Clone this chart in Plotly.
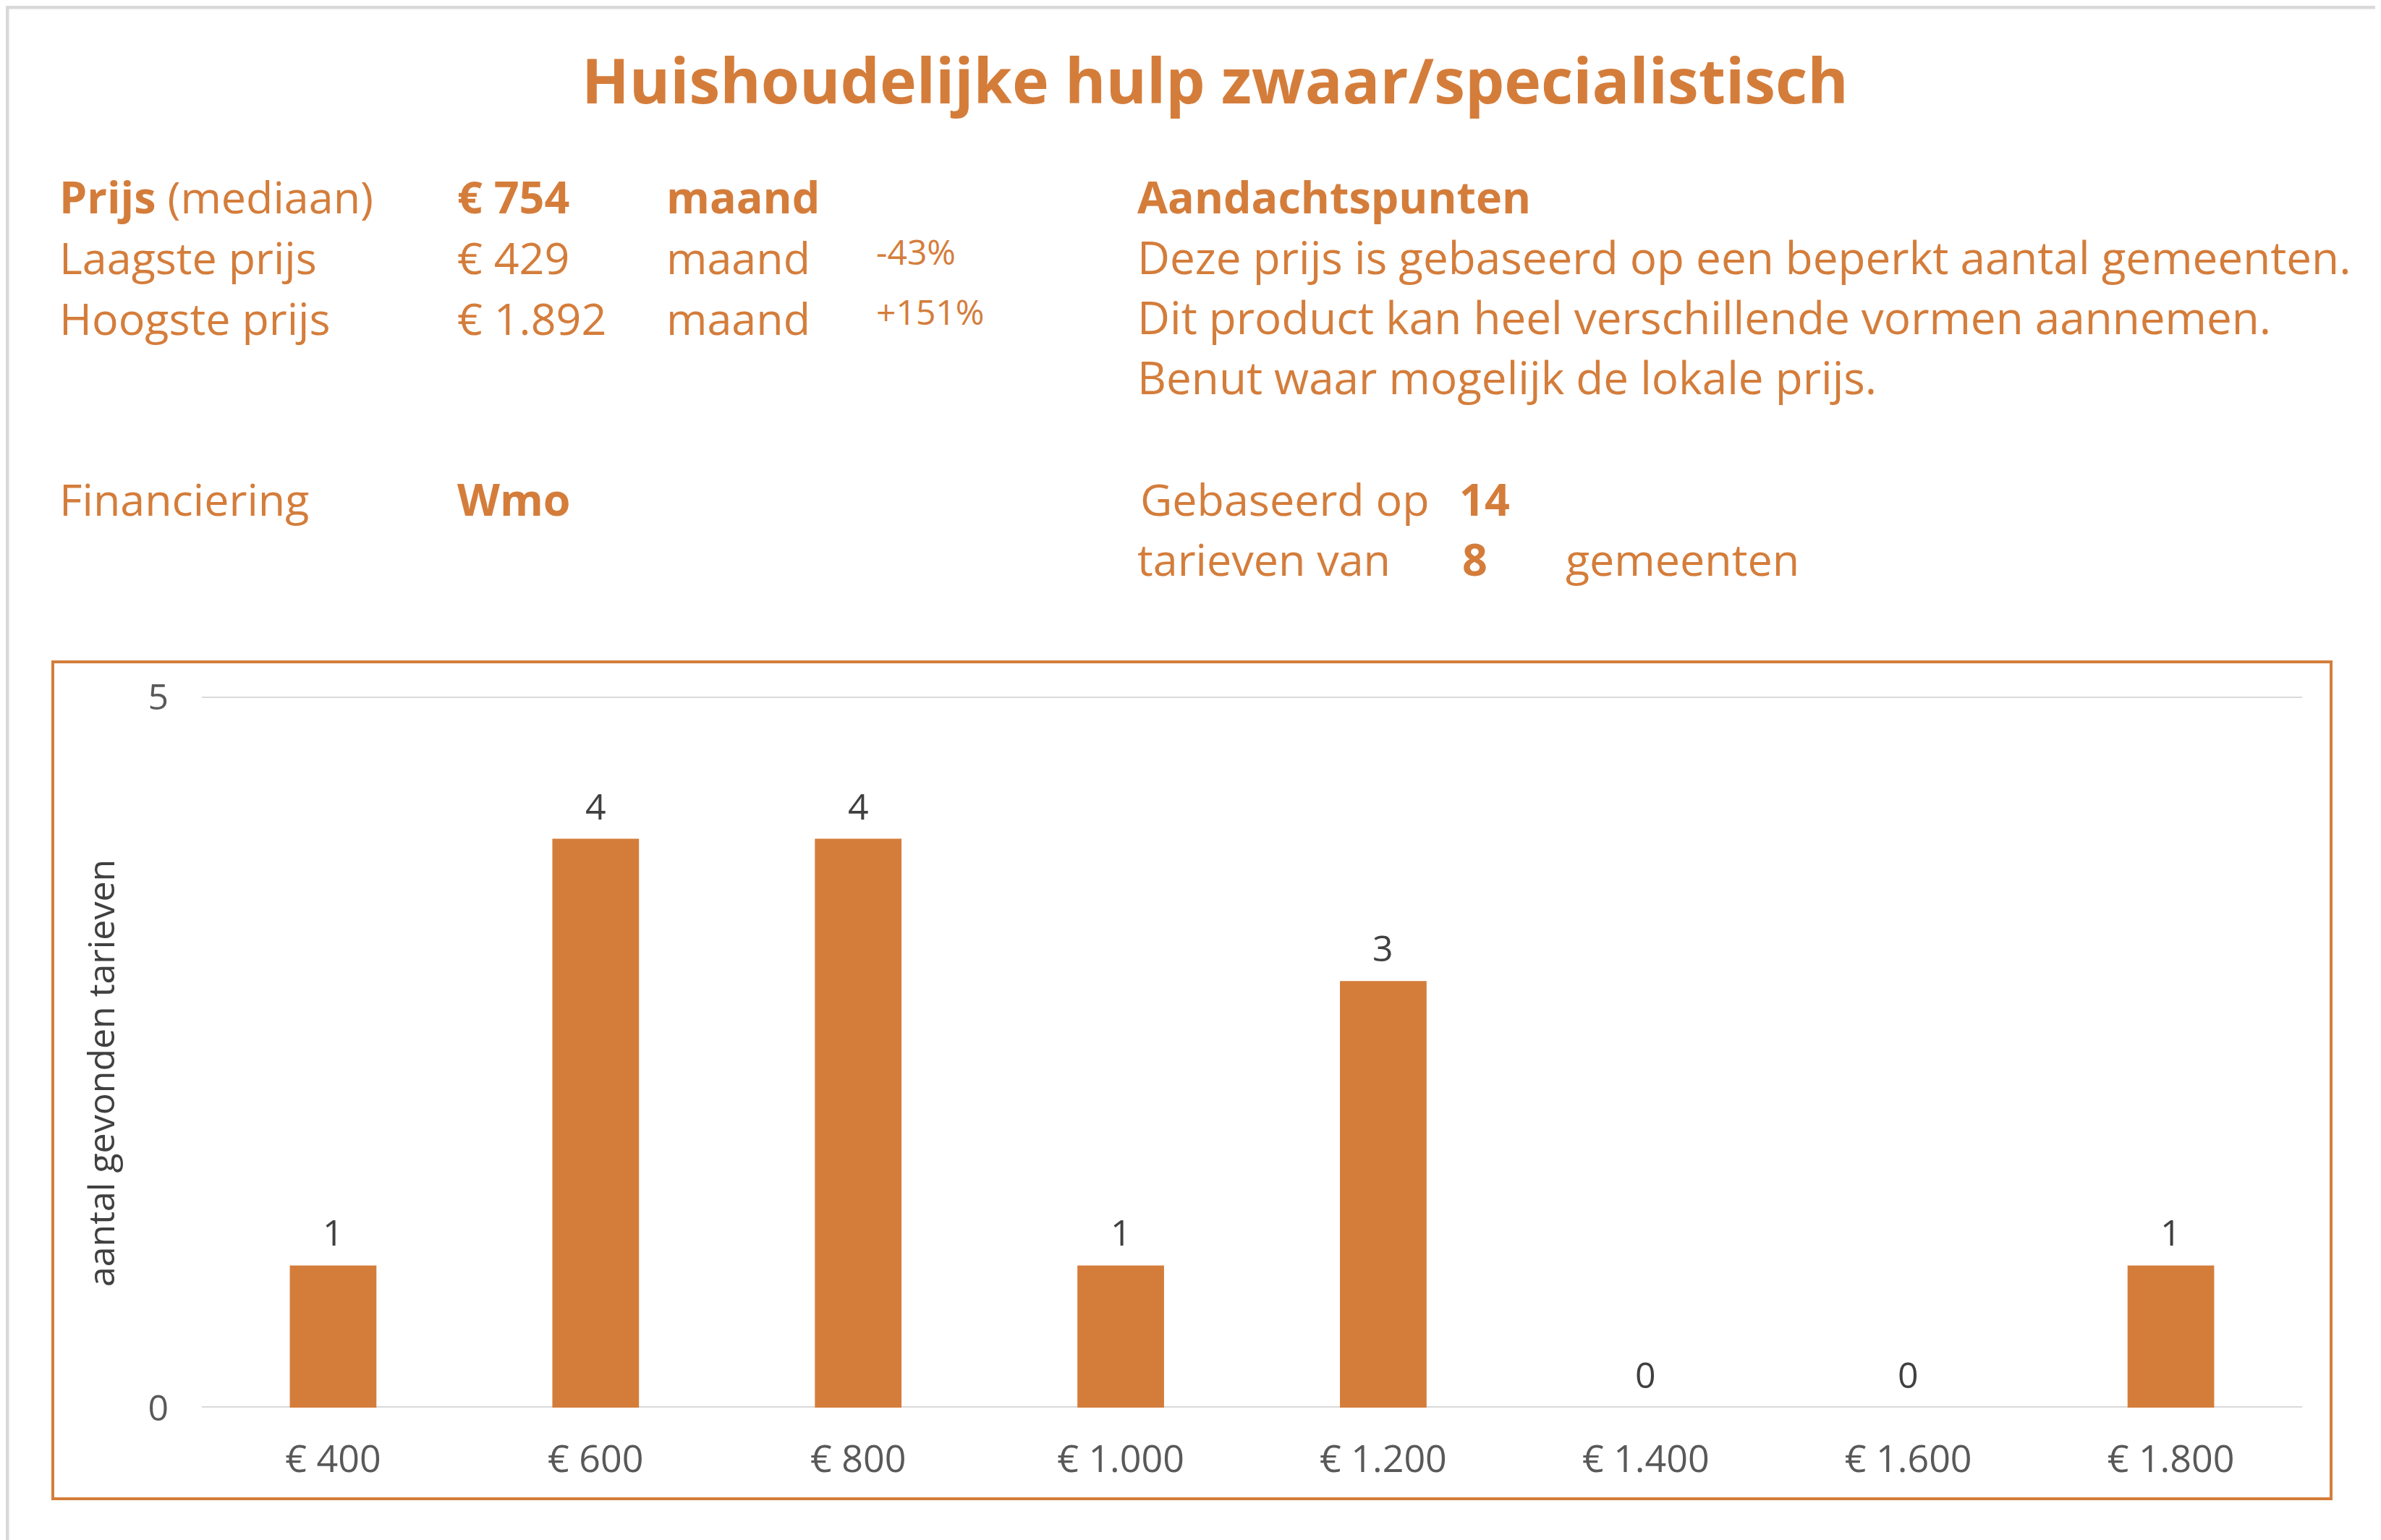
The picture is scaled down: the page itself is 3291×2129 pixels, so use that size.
import plotly.graph_objects as go

# ---------------- data ----------------
categories = ["€ 400", "€ 600", "€ 800", "€ 1.000", "€ 1.200", "€ 1.400", "€ 1.600", "€ 1.800"]
counts = [1, 4, 4, 1, 3, 0, 0, 1]
y_ticks = [0, 5]

title_text = "Huishoudelijke hulp zwaar/specialistisch"
price_labels = ["Prijs", "Laagste prijs", "Hoogste prijs"]
price_values = ["€ 754", "€ 429", "€ 1.892"]
price_units = ["maand", "maand", "maand"]
price_pcts = ["", "-43%", "+151%"]
financing = "Wmo"
notes_header = "Aandachtspunten"
notes = [
    "Deze prijs is gebaseerd op een beperkt aantal gemeenten.",
    "Dit product kan heel verschillende vormen aannemen.",
    "Benut waar mogelijk de lokale prijs.",
]
n_tarieven = 14
n_gemeenten = 8
y_title = "aantal gevonden tarieven"

# ---------------- style ----------------
W, H = 3291, 2129
OFF = 8  # browser body margin
ORANGE = "#D47D3B"
GREY_TXT = "#595959"
DARK_TXT = "#404040"
GRID = "#D9D9D9"
FONT = "Open Sans"

PL, PR, PT, PB = 279, 3182, 963, 1946  # plot area in screen pixels


def px(x):
    return (x - PL) / (PR - PL)


def py(y):
    return (PB - y) / (PB - PT)


fig = go.Figure()
fig.add_trace(go.Bar(
    x=categories, y=counts,
    marker=dict(color=ORANGE, line=dict(width=0)),
    hoverinfo="x+y",
))

ann = []


def add(x, y, text, size, bold=False, color=ORANGE, xanchor="left"):
    ann.append(dict(
        x=px(x), y=py(y), xref="paper", yref="paper",
        text=("<b>%s</b>" % text) if bold else text,
        showarrow=False, xanchor=xanchor, yanchor="middle",
        font=dict(family=FONT, size=size, color=color),
    ))


BODY = 61
add(1679, 109, title_text, 86, bold=True, xanchor="center")

rows_y = [271, 355, 439]
add(80, rows_y[0], "<b>%s</b> (mediaan)" % price_labels[0], BODY)
add(80, rows_y[1], price_labels[1], BODY)
add(80, rows_y[2], price_labels[2], BODY)
for i, yy in enumerate(rows_y):
    add(630, yy, price_values[i], BODY, bold=(i == 0))
    add(919, yy, price_units[i], BODY, bold=(i == 0))
    if price_pcts[i]:
        add(1209, yy - 8, price_pcts[i], 48)

add(1570, 271, notes_header, BODY, bold=True)
for i, n in enumerate(notes):
    add(1570, 355 + i * 83, n, 62)

add(80, 689, "Financiering", BODY)
add(630, 689, financing, BODY, bold=True)

add(1574, 689, "Gebaseerd op", BODY)
add(2015, 689, str(n_tarieven), BODY, bold=True)
add(1570, 773, "tarieven van", BODY)
add(2019, 773, str(n_gemeenten), BODY, bold=True)
add(2162, 773, "gemeenten", BODY)

# y axis title
ann.append(dict(
    x=px(139), y=py(1484), xref="paper", yref="paper", text=y_title,
    textangle=-90, showarrow=False, xanchor="center", yanchor="middle",
    font=dict(family=FONT, size=50, color=DARK_TXT),
))

# data labels above bars, drawn on the data axes
for c, v in zip(categories, counts):
    ann.append(dict(
        x=c, y=v, xref="x", yref="y", text=str(v), showarrow=False,
        xanchor="center", yanchor="middle", yshift=46,
        font=dict(family=FONT, size=50, color=DARK_TXT),
    ))

shapes = [
    # chart box
    dict(type="rect", xref="paper", yref="paper",
         x0=px(73), x1=px(3222), y0=py(2072), y1=py(915),
         line=dict(color=ORANGE, width=4), fillcolor="rgba(0,0,0,0)", layer="below"),
    # outer grey frame (top, left)
    dict(type="line", xref="paper", yref="paper",
         x0=px(OFF), x1=px(W), y0=py(OFF + 2), y1=py(OFF + 2),
         line=dict(color=GRID, width=5)),
    dict(type="line", xref="paper", yref="paper",
         x0=px(OFF + 2), x1=px(OFF + 2), y0=py(OFF), y1=py(H),
         line=dict(color=GRID, width=5)),
]
# horizontal grid lines at the tick values
for t in y_ticks:
    shapes.append(dict(type="line", xref="paper", yref="y", x0=0, x1=1, y0=t, y1=t,
                       line=dict(color=GRID, width=4), layer="below"))

fig.update_layout(
    width=W - OFF, height=H - OFF,
    margin=dict(l=PL - OFF, r=W - PR, t=PT - OFF, b=H - PB, autoexpand=False),
    paper_bgcolor="white", plot_bgcolor="white",
    showlegend=False,
    bargap=0.67,
    annotations=ann,
    shapes=shapes,
    xaxis=dict(
        type="category", showgrid=False, zeroline=False, showline=False,
        ticks="", tickfont=dict(family=FONT, size=52, color=GREY_TXT),
        ticklabelstandoff=36,
    ),
    yaxis=dict(
        range=[0, 5], tickvals=y_ticks, ticktext=[str(v) for v in y_ticks],
        showgrid=False, zeroline=False, showline=False, ticks="",
        tickfont=dict(family=FONT, size=50, color=GREY_TXT),
        ticklabelstandoff=45,
    ),
)

fig.write_html("out.html")
